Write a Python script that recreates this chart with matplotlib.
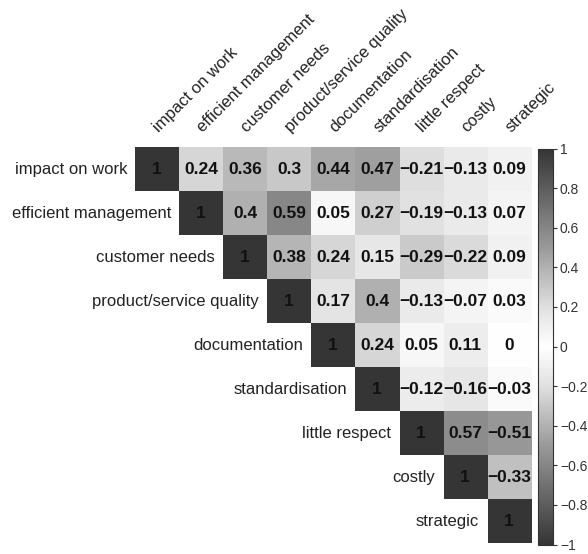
import numpy as np
import matplotlib
matplotlib.use('Agg')
from matplotlib import pyplot as plt
from matplotlib.colors import LinearSegmentedColormap

labels = ['impact on work', 'efficient management', 'customer needs',
          'product/service quality', 'documentation', 'standardisation',
          'little respect', 'costly', 'strategic']

# upper triangle, row by row (diagonal first)
row0 = [1, 0.24, 0.36, 0.3, 0.44, 0.47, -0.21, -0.13, 0.09]
row1 = [1, 0.4, 0.59, 0.05, 0.27, -0.19, -0.13, 0.07]
row2 = [1, 0.38, 0.24, 0.15, -0.29, -0.22, 0.09]
row3 = [1, 0.17, 0.4, -0.13, -0.07, 0.03]
row4 = [1, 0.24, 0.05, 0.11, 0]
row5 = [1, -0.12, -0.16, -0.03]
row6 = [1, 0.57, -0.51]
row7 = [1, -0.33]
row8 = [1]
rows = [row0, row1, row2, row3, row4, row5, row6, row7, row8]

cbar_ticks = [-1, -0.8, -0.6, -0.4, -0.2, 0, 0.2, 0.4, 0.6, 0.8, 1]

n = len(labels)
corr = np.full((n, n), np.nan)
for i, r in enumerate(rows):
    corr[i, i:] = r

plt.rcParams['font.family'] = ['Liberation Sans', 'DejaVu Sans']
# grey - white - grey, a bit lighter close to zero
cmap = LinearSegmentedColormap.from_list('gw', [
    (0.0, '#353535'), (0.25, '#9a9a9a'), (0.4, '#e0e0e0'), (0.5, '#ffffff'),
    (0.6, '#e0e0e0'), (0.75, '#9a9a9a'), (1.0, '#353535')])

fig = plt.figure(figsize=(5.88, 5.54), dpi=100)
ax = fig.add_axes([0.2296, 0.019, 0.6735, 0.7148])
cax = fig.add_axes([0.915, 0.017, 0.0255, 0.7148])

im = ax.imshow(np.ma.masked_invalid(corr), cmap=cmap, vmin=-1, vmax=1, aspect='auto')
ax.set_xlim(-0.5, n - 0.5)
ax.set_ylim(n - 0.5, -0.5)
ax.axis('off')

for i in range(n):
    for j in range(i, n):
        v = corr[i, j]
        s = '{:g}'.format(v).replace('-', '\u2212')
        ax.text(j, i, s, ha='center', va='center', fontsize=12.5,
                fontweight='bold', color='#111111')
    # row label right next to diagonal cell
    ax.text(i - 0.68, i, labels[i], ha='right', va='center', fontsize=12,
            color='#222222')
    # column label on top
    ax.text(i + 0.1, -0.78, labels[i], ha='left', va='bottom', rotation=45,
            rotation_mode='anchor', fontsize=12, color='#222222')

cb = fig.colorbar(im, cax=cax, ticks=cbar_ticks)
cb.ax.set_yticklabels(['{:g}'.format(t).replace('-', '\u2212') for t in cbar_ticks])
cb.ax.tick_params(labelsize=10, colors='#333333', length=3, pad=2)
cb.outline.set_edgecolor('#333333')

fig.savefig('out.png', dpi=100)
